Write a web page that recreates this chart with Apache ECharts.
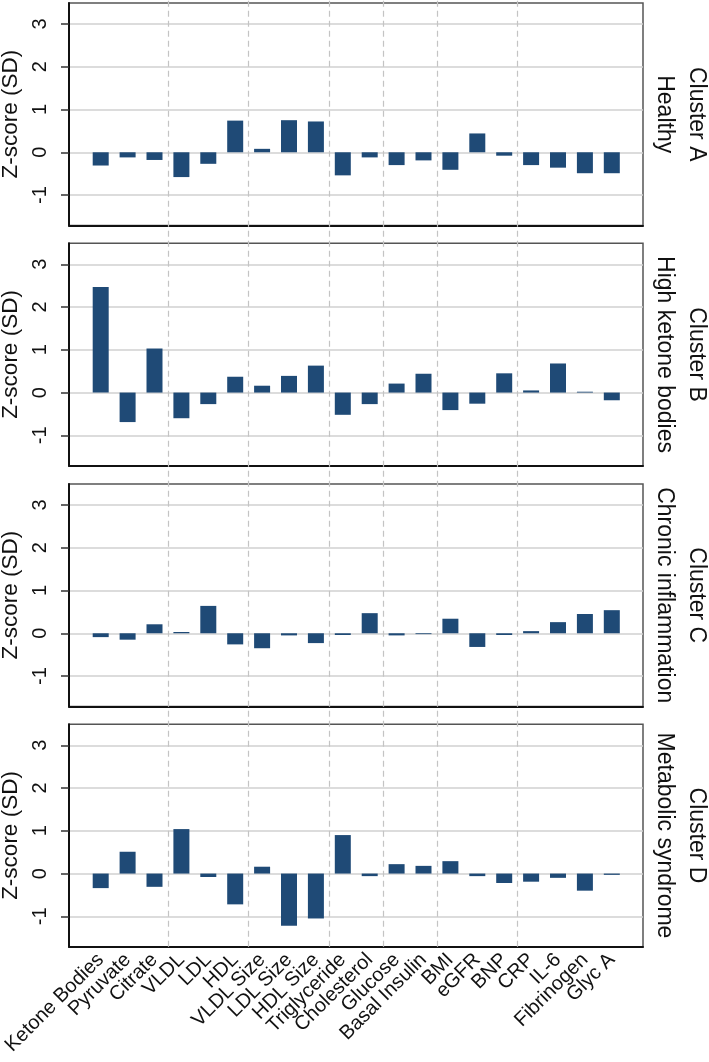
<!DOCTYPE html>
<html>
<head>
<meta charset="utf-8">
<script src="https://cdn.jsdelivr.net/npm/echarts@6/dist/echarts.min.js"></script>
<style>html,body{margin:0;padding:0;background:#fff}#c{width:709px;height:1062px}</style>
</head>
<body>
<div id="c"></div>
<script>
const categories = ['Ketone Bodies','Pyruvate','Citrate','VLDL','LDL','HDL','VLDL Size','LDL Size','HDL Size','Triglyceride','Cholesterol','Glucose','Basal Insulin','BMI','eGFR','BNP','CRP','IL-6','Fibrinogen','Glyc A'];
const clusterA = [-0.31,-0.12,-0.18,-0.58,-0.27,0.74,0.08,0.75,0.72,-0.54,-0.12,-0.30,-0.19,-0.41,0.44,-0.08,-0.30,-0.36,-0.49,-0.49];
const clusterB = [2.47,-0.69,1.03,-0.60,-0.27,0.37,0.16,0.39,0.63,-0.52,-0.27,0.21,0.44,-0.41,-0.26,0.45,0.05,0.68,0.02,-0.18];
const clusterC = [-0.09,-0.15,0.21,0.03,0.64,-0.26,-0.35,-0.05,-0.23,-0.04,0.47,-0.05,-0.02,0.34,-0.32,-0.04,0.05,0.26,0.45,0.54];
const clusterD = [-0.34,0.51,-0.31,1.04,-0.08,-0.72,0.16,-1.22,-1.05,0.90,-0.06,0.22,0.18,0.29,-0.06,-0.22,-0.19,-0.10,-0.40,-0.03];
const clusterNames = ['Cluster A\nHealthy','Cluster B\nHigh ketone bodies','Cluster C\nChronic inflammation','Cluster D\nMetabolic syndrome'];
const yTicks = [-1,0,1,2,3];
const groupBounds = [2.5,5.5,8.5,10.5,12.5,15.5];
const yTitle = 'Z-score (SD)';

const seriesData = [clusterA, clusterB, clusterC, clusterD];
const FONT = 'Liberation Sans, Arial, Helvetica, sans-serif';
const tops = [3, 243.3, 484, 724.3];
const H = 222.4;
const YMIN = -1.71, YMAX = 3.49;

const grid = [], xAxis = [], yAxis = [], series = [];
tops.forEach((t, k) => {
  grid.push({left: 69, width: 574, top: t, height: H, show: true, borderColor: '#555', borderWidth: 1.5,
    backgroundColor: 'transparent', outerBoundsMode: 'none', containLabel: false});
});
tops.forEach((t, k) => {
  grid.push({left: 87.25, width: 538, top: t, height: H, outerBoundsMode: 'none', containLabel: false});
});
grid.push({left: 87.25, width: 538, top: 0, height: tops[3] + H, outerBoundsMode: 'none', containLabel: false});

tops.forEach((t, k) => {
  xAxis.push({type: 'value', gridIndex: k, min: 0, max: 1,
    axisLine: {show: true, onZero: false, lineStyle: {color: '#111', width: 2}},
    axisTick: {show: false}, axisLabel: {show: false}, splitLine: {show: false}});
});
tops.forEach((t, k) => {
  xAxis.push({type: 'category', gridIndex: 4 + k, data: categories,
    axisLine: {show: false}, axisTick: {show: false}, splitLine: {show: false},
    axisLabel: {show: k === 3, interval: 0, rotate: 45, margin: 10, fontSize: 20, color: '#111', fontFamily: FONT}});
});
xAxis.push({type: 'value', gridIndex: 8, min: -0.5, max: 19.5, show: false});

tops.forEach((t, k) => {
  yAxis.push({type: 'value', gridIndex: k, min: YMIN, max: YMAX,
    name: yTitle, nameLocation: 'middle', nameGap: 43, nameRotate: 90,
    nameTextStyle: {fontSize: 22.5, color: '#111', fontFamily: FONT},
    axisLine: {show: true, lineStyle: {color: '#111', width: 2}},
    axisTick: {show: true, length: 8, lineStyle: {color: '#333', width: 1.5}},
    axisLabel: {show: true, rotate: 90, margin: 19, fontSize: 20, color: '#111', fontFamily: FONT,
      align: 'center', verticalAlign: 'bottom', showMinLabel: false, showMaxLabel: false,
      formatter: v => (Number.isInteger(v) ? String(v) : '')},
    splitLine: {show: true, showMinLine: false, showMaxLine: false, lineStyle: {color: '#d0d0d0', width: 1.5}}});
});
tops.forEach((t, k) => {
  yAxis.push({type: 'value', gridIndex: k, position: 'right', min: YMIN, max: YMAX,
    name: clusterNames[k], nameLocation: 'middle', nameGap: 5, nameRotate: -90,
    nameTextStyle: {fontSize: 23, lineHeight: 32, color: '#111', fontFamily: FONT, align: 'center'},
    axisLine: {show: false}, axisTick: {show: false}, axisLabel: {show: false}, splitLine: {show: false}});
});
tops.forEach((t, k) => {
  yAxis.push({type: 'value', gridIndex: 4 + k, min: YMIN, max: YMAX, show: false, splitLine: {show: false}});
});
yAxis.push({type: 'value', gridIndex: 8, min: 0, max: 1, show: false});

seriesData.forEach((d, k) => {
  series.push({type: 'bar', xAxisIndex: 4 + k, yAxisIndex: 8 + k, data: d, barWidth: 16,
    itemStyle: {color: '#1f4a76'}, silent: true, animation: false});
});
series.push({type: 'line', xAxisIndex: 8, yAxisIndex: 12, data: [], silent: true, animation: false,
  markLine: {silent: true, symbol: ['none', 'none'], label: {show: false},
    lineStyle: {color: '#c4c4c4', width: 1.2, type: [6, 4]},
    data: groupBounds.map(v => ({xAxis: v}))}});

const chart = echarts.init(document.getElementById('c'), null, {renderer: 'canvas'});
chart.setOption({animation: false, backgroundColor: '#fff', grid, xAxis, yAxis, series});
</script>
</body>
</html>
